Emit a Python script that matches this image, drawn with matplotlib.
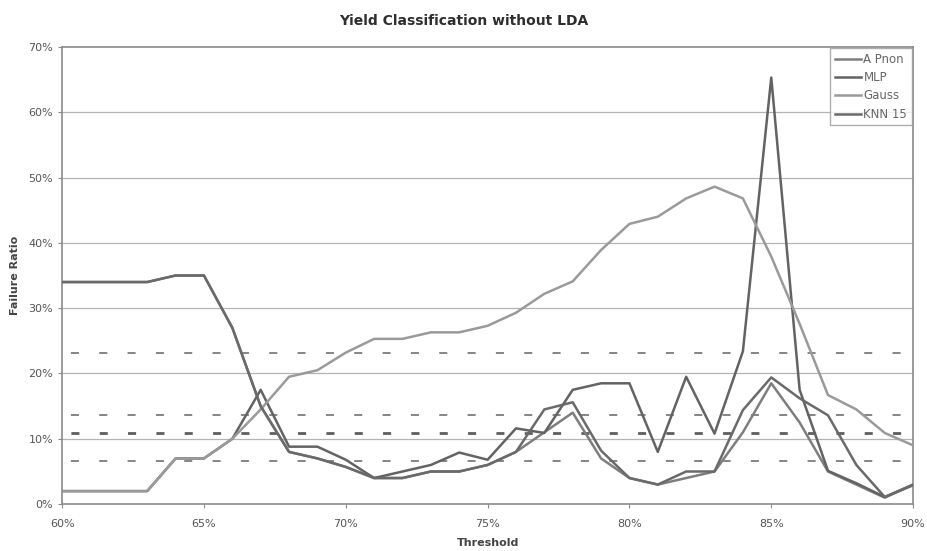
import numpy as np
import matplotlib.pyplot as plt
from matplotlib.ticker import FuncFormatter, MultipleLocator

# threshold in percent, one point per step
threshold = list(range(60, 91))

a_pnon = [34, 34, 34, 34, 35, 35, 27, 15, 8, 7, 5.7, 4, 4, 5, 5, 6, 8,
          11, 14, 7, 4, 3, 4, 5, 11, 18.5, 12.5, 5, 3, 1, 3]
mlp = [2, 2, 2, 2, 7, 7, 10, 17.5, 8.8, 8.8, 6.8, 4, 5, 6, 7.9, 6.8, 11.6,
       10.9, 17.5, 18.5, 18.5, 8, 19.5, 10.8, 23.4, 65.3, 17.5, 5.1, 3.2, 1.1, 2.9]
gauss = [2, 2, 2, 2, 7, 7, 10, 14.5, 19.5, 20.5, 23.2, 25.3, 25.3, 26.3, 26.3,
         27.3, 29.3, 32.2, 34.1, 38.9, 42.9, 44, 46.8, 48.6, 46.8, 37.9, 27.6,
         16.7, 14.5, 10.9, 9]
knn15 = [34, 34, 34, 34, 35, 35, 27, 15, 8, 7, 5.7, 4, 4, 5, 5, 6, 8,
         14.5, 15.6, 8.2, 4, 3, 5, 5, 14.4, 19.4, 16.2, 13.6, 6, 1.1, 3]

# dashed reference levels
ref_levels = [23.2, 13.7, 10.9, 6.6]
ref_widths = [1.3, 1.3, 2.0, 1.3]
ref_colors = ['#7c7c7c', '#7c7c7c', '#5e5e5e', '#7c7c7c']

series = [
    ('A Pnon', a_pnon, '#7e7e7e'),
    ('MLP', mlp, '#636363'),
    ('Gauss', gauss, '#9a9a9a'),
    ('KNN 15', knn15, '#6a6a6a'),
]

fig = plt.figure(figsize=(9.27, 5.51), dpi=100)
ax = fig.add_axes([0.067, 0.085, 0.918, 0.83])

for y in range(10, 70, 10):
    ax.axhline(y, color='#b4b4b4', lw=0.9, zorder=1)

# same dash pattern in points for every level, whatever the width
for lvl, w, c in zip(ref_levels, ref_widths, ref_colors):
    ax.axhline(lvl, color=c, lw=w, zorder=2,
               linestyle=(14.0 / w, (5.8 / w, 14.6 / w)))

for name, vals, col in series:
    ax.plot(threshold, vals, color=col, lw=1.8, label=name, zorder=3)

ax.set_xlim(60, 90)
ax.set_ylim(0, 70)
ax.xaxis.set_major_locator(MultipleLocator(5))
ax.yaxis.set_major_locator(MultipleLocator(10))
pct = FuncFormatter(lambda v, p: f'{v:.0f}%')
ax.xaxis.set_major_formatter(pct)
ax.yaxis.set_major_formatter(pct)

for s in ax.spines.values():
    s.set_color('#8a8a8a')
    s.set_linewidth(1.2)

ax.tick_params(axis='both', colors='#8a8a8a', labelcolor='#555555',
               labelsize=8, length=3, direction='out')
ax.tick_params(axis='x', pad=8)

ax.set_xlabel('Threshold', fontsize=8, fontweight='bold', color='#444444', labelpad=6)
ax.set_ylabel('Failure Ratio', fontsize=8, fontweight='bold', color='#444444', labelpad=6)
fig.suptitle('Yield Classification without LDA', fontsize=10, fontweight='bold',
             color='#2e2e2e', y=0.975)

leg = ax.legend(loc='upper right', fontsize=8.5, frameon=True, fancybox=False,
                handlelength=2.2, handletextpad=0.2, borderpad=0.4,
                labelspacing=0.45, borderaxespad=0.1)
leg.get_frame().set_edgecolor('#9a9a9a')
leg.get_frame().set_linewidth(1.0)
for t in leg.get_texts():
    t.set_color('#666666')

fig.savefig('out.png', dpi=100)
